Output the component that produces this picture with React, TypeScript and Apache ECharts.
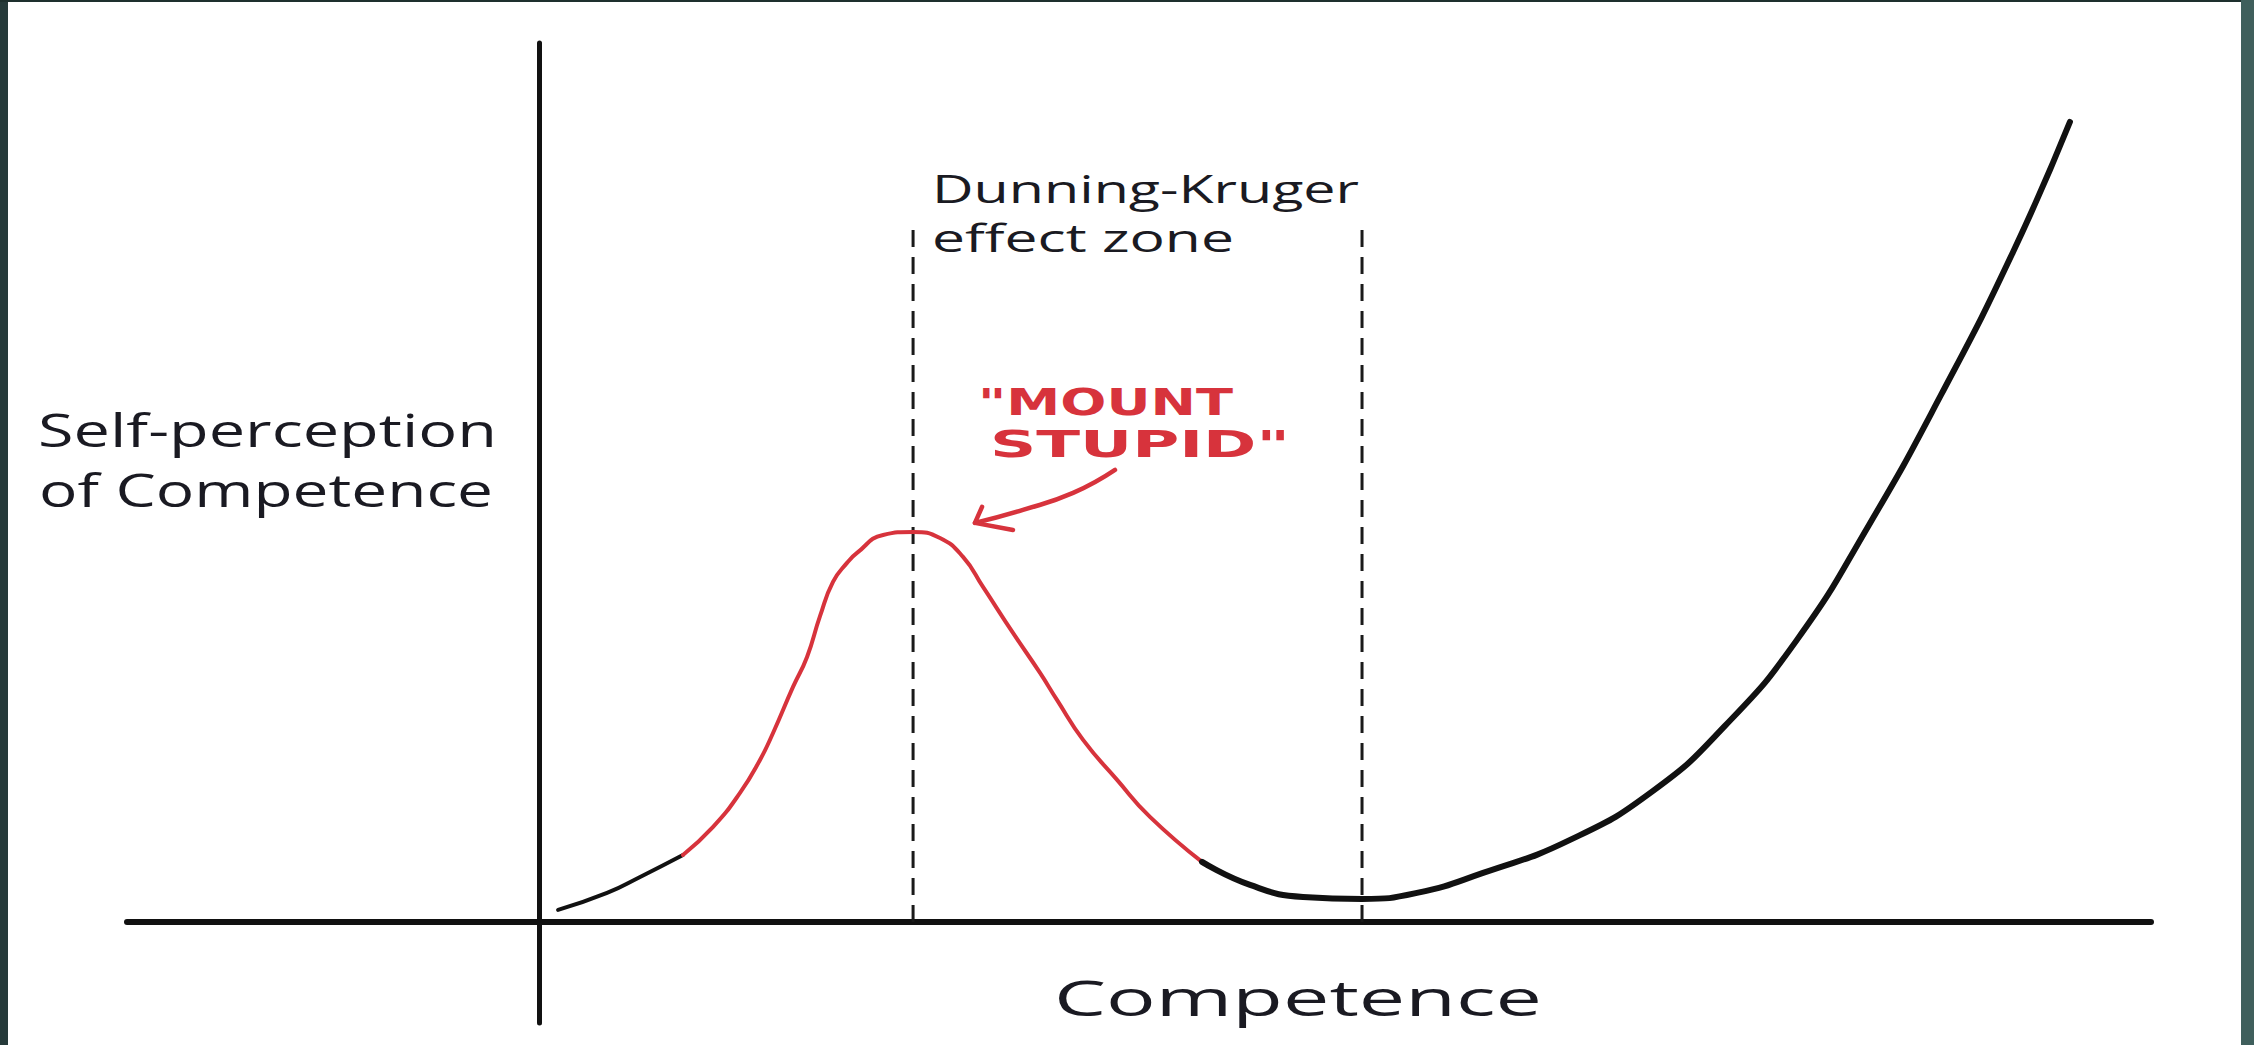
import React, { useEffect, useRef } from "react";
import * as echarts from "echarts";

// ---- data (x: competence, y: self-perception; axes cross at 0) ----
const leftTailX = [1.15, 4.19, 6.24, 8.9];
const leftTailY = [1.37, 3.3, 5.12, 7.62];
const mountStupidX = [8.9, 10.77, 12.44, 13.68, 14.49, 15.73, 16.6, 17.41, 18.21, 19.08, 19.7, 21.32, 23.18, 24.85, 26.28, 27.52, 29.38, 31.06, 32.11, 33.73, 35.84, 37.88, 41.11];
const mountStupidY = [7.62, 10.81, 14.68, 18.43, 21.5, 26.74, 30.15, 34.82, 38.68, 40.85, 41.98, 44.03, 44.37, 43.69, 41.53, 38.12, 32.88, 28.33, 25.26, 20.71, 16.16, 11.95, 6.83];
const valleyX = [41.11, 44.09, 47.38, 51.04, 54.45, 58.55, 63.95, 69.1, 73.56, 78.03, 82.5, 86.97, 91.44, 94.97];
const valleyY = [6.83, 4.21, 2.84, 2.62, 3.3, 5.58, 9.33, 14.91, 22.3, 32.09, 45.17, 59.96, 76.23, 91.02];
const zoneBoundsX = [23.18, 51.04];
const zoneTopY = 79.1;
const arrowX = [35.71, 33.11, 30.0, 27.02];
const arrowY = [51.43, 48.81, 46.88, 45.4];
const arrowHeadX = [27.46, 27.02, 29.38];
const arrowHeadY = [47.22, 45.4, 44.6];
const xAxisRange = [-25.6, 100];
const yAxisRange = [-11.5, 100];

const yAxisName = ["Self-perception", "of Competence"];
const xAxisName = "Competence";
const zoneLabel = ["Dunning-Kruger", "effect zone"];
const mountLabel = ['"MOUNT', 'STUPID"'];

const RED = "#d7333c";
const INK = "#111111";
const TEXT = "#1a1a22";
const SANS = '"Open Sans", "Noto Sans", sans-serif';
const HAND = '"DejaVu Sans", sans-serif';

function pairs(xs: number[], ys: number[]) {
  return xs.map((x, i) => [x, ys[i]]);
}

function measure(text: string, font: string): number {
  const ctx = document.createElement("canvas").getContext("2d");
  if (!ctx) return text.length * 10;
  ctx.font = font;
  return ctx.measureText(text).width;
}

function stretchedText(
  text: string,
  x: number,
  baseline: number,
  size: number,
  family: string,
  weight: string,
  fill: string,
  targetWidth: number,
  centralOffset: number,
  align: string = "left"
) {
  const w = measure(text, `${weight} ${size}px ${family}`);
  return {
    type: "text",
    x,
    y: baseline - centralOffset * size,
    scaleX: targetWidth / w,
    z: 10,
    silent: true,
    style: {
      text,
      fill,
      fontSize: size,
      fontFamily: family,
      fontWeight: weight,
      textAlign: align,
      textVerticalAlign: "middle",
    },
  };
}

export default function App() {
  const ref = useRef<HTMLDivElement>(null);

  useEffect(() => {
    if (!ref.current) return;
    document.body.style.margin = "0";
    const chart = echarts.init(ref.current, undefined, { renderer: "svg" });

    const OS = 0.388; // central baseline offset for Open Sans
    const DJ = 0.346; // central baseline offset for DejaVu Sans Bold
    const W = "500";

    const graphic: any[] = [
      { type: "rect", shape: { x: 0, y: 0, width: 8, height: 1045 }, style: { fill: "#263a3a" }, silent: true },
      { type: "rect", shape: { x: 0, y: 0, width: 2254, height: 2 }, style: { fill: "#1e302e" }, silent: true },
      { type: "rect", shape: { x: 2241, y: 0, width: 13, height: 1045 }, style: { fill: "#3f5f5c" }, silent: true },
      stretchedText(yAxisName[0], 38, 447, 46, SANS, W, TEXT, 459, OS),
      stretchedText(yAxisName[1], 39, 507, 46, SANS, W, TEXT, 454, OS),
      stretchedText(zoneLabel[0], 932, 203, 39, SANS, W, TEXT, 427, OS),
      stretchedText(zoneLabel[1], 932, 252, 39, SANS, W, TEXT, 302, OS),
      stretchedText(xAxisName, 1298, 1016, 50, SANS, W, TEXT, 488, OS, "center"),
      stretchedText(mountLabel[0], 978, 415, 38, HAND, "bold", RED, 255, DJ),
      stretchedText(mountLabel[1], 990, 457, 38, HAND, "bold", RED, 300, DJ),
    ];

    const curveLine = (data: number[][], color: string, width: number) => ({
      type: "line",
      data,
      smooth: 0.5,
      symbol: "none",
      silent: true,
      lineStyle: { color, width, cap: "round", join: "round" },
    });

    const option: any = {
      animation: false,
      backgroundColor: "#ffffff",
      grid: { left: 127, right: 103, top: 43, bottom: 22, containLabel: false },
      xAxis: {
        type: "value",
        min: xAxisRange[0],
        max: xAxisRange[1],
        axisLine: { show: true, onZero: true, lineStyle: { color: INK, width: 6, cap: "round" } },
        axisTick: { show: false },
        axisLabel: { show: false },
        splitLine: { show: false },
      },
      yAxis: {
        type: "value",
        min: yAxisRange[0],
        max: yAxisRange[1],
        axisLine: { show: true, onZero: true, lineStyle: { color: INK, width: 5, cap: "round" } },
        axisTick: { show: false },
        axisLabel: { show: false },
        splitLine: { show: false },
      },
      tooltip: { show: false },
      graphic,
      series: [
        ...zoneBoundsX.map((x) => ({
          type: "line",
          data: [[x, 0], [x, zoneTopY]],
          symbol: "none",
          silent: true,
          z: 1,
          lineStyle: { color: "#1a1a1a", width: 3, type: [17, 10] },
        })),
        curveLine(pairs(leftTailX, leftTailY), INK, 4),
        curveLine(pairs(mountStupidX, mountStupidY), RED, 4),
        curveLine(pairs(valleyX, valleyY), INK, 6),
        curveLine(pairs(arrowX, arrowY), RED, 4.5),
        {
          type: "line",
          data: pairs(arrowHeadX, arrowHeadY),
          symbol: "none",
          silent: true,
          lineStyle: { color: RED, width: 4.5, cap: "round", join: "round" },
        },
      ],
    };

    chart.setOption(option);
    return () => chart.dispose();
  }, []);

  return (
    <div
      ref={ref}
      style={{ position: "fixed", left: 0, top: 0, width: "2254px", height: "1045px" }}
    />
  );
}
